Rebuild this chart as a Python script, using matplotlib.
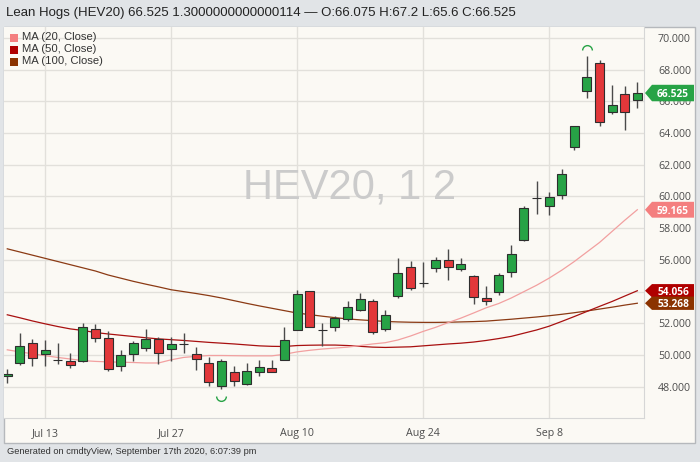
import matplotlib.pyplot as plt
from matplotlib.path import Path
from matplotlib.patches import Rectangle, Polygon
from matplotlib.transforms import blended_transform_factory

# Sessões (dias úteis)
dates = ["2020-07-08", "2020-07-09", "2020-07-10",
         "2020-07-13", "2020-07-14", "2020-07-15", "2020-07-16", "2020-07-17",
         "2020-07-20", "2020-07-21", "2020-07-22", "2020-07-23", "2020-07-24",
         "2020-07-27", "2020-07-28", "2020-07-29", "2020-07-30", "2020-07-31",
         "2020-08-03", "2020-08-04", "2020-08-05", "2020-08-06", "2020-08-07",
         "2020-08-10", "2020-08-11", "2020-08-12", "2020-08-13", "2020-08-14",
         "2020-08-17", "2020-08-18", "2020-08-19", "2020-08-20", "2020-08-21",
         "2020-08-24", "2020-08-25", "2020-08-26", "2020-08-27", "2020-08-28",
         "2020-08-31", "2020-09-01", "2020-09-02", "2020-09-03", "2020-09-04",
         "2020-09-08", "2020-09-09", "2020-09-10", "2020-09-11",
         "2020-09-14", "2020-09-15", "2020-09-16", "2020-09-17"]

opens = [48.65, 49.50, 50.76, 50.08, 49.70, 49.64, 49.64, 51.64, 51.07, 49.28,
         50.06, 50.44, 51.01, 50.38, 50.69, 50.08, 49.50, 48.02, 48.93, 48.19,
         48.90, 49.18, 49.70, 51.55, 54.01, 51.60, 51.74, 52.27, 52.81, 53.43,
         51.64, 53.70, 55.53, 54.54, 55.49, 55.97, 55.43, 55.00, 53.60, 53.97,
         55.24, 57.27, 59.90, 59.37, 60.07, 63.12, 66.63, 68.42, 65.31, 66.47,
         66.075]
highs = [49.15, 51.39, 51.01, 50.97, 50.76, 50.13, 52.02, 51.97, 51.49, 50.33,
         50.86, 51.64, 51.14, 51.17, 51.39, 50.50, 49.87, 49.75, 49.32, 49.53,
         49.70, 49.70, 51.80, 54.12, 54.05, 52.05, 52.48, 53.44, 53.91, 53.53,
         52.81, 56.12, 55.95, 55.90, 56.18, 56.69, 56.12, 55.05, 54.33, 55.17,
         56.91, 59.42, 60.95, 60.26, 61.73, 64.47, 68.84, 68.59, 67.05, 66.95,
         67.2]
lows = [48.25, 49.39, 49.32, 49.28, 49.45, 49.18, 49.58, 50.82, 49.01, 49.01,
        49.64, 50.27, 49.45, 49.64, 50.13, 49.07, 48.02, 47.85, 48.02, 48.13,
        48.69, 48.90, 49.70, 51.55, 51.75, 50.54, 51.49, 52.16, 52.75, 51.33,
        51.49, 53.60, 54.08, 54.29, 55.21, 54.71, 55.28, 53.24, 53.17, 53.80,
        54.92, 57.21, 58.91, 58.81, 59.84, 62.95, 66.21, 64.47, 65.22, 64.21,
        65.6]
closes = [48.78, 50.54, 49.81, 50.33, 49.70, 49.39, 51.80, 51.07, 49.14, 50.02,
          50.76, 51.01, 50.13, 50.71, 50.69, 49.77, 48.30, 49.60, 48.38, 48.99,
          49.26, 48.90, 50.97, 53.85, 51.80, 51.60, 52.33, 53.00, 53.53, 51.43,
          52.50, 55.17, 54.23, 54.54, 55.97, 55.55, 55.74, 53.66, 53.38, 55.02,
          56.39, 59.27, 59.90, 59.94, 61.42, 64.42, 67.54, 64.70, 65.75, 65.31,
          66.525]

# Médias móveis
ma20 = [50.33, 50.20, 50.08, 49.96, 49.85, 49.75, 49.65, 49.60, 49.57, 49.55,
        49.53, 49.50, 49.50, 49.70, 49.85, 49.92, 49.97, 49.97, 49.96, 49.95,
        49.95, 49.95, 50.05, 50.20, 50.30, 50.38, 50.44, 50.50, 50.60, 50.70,
        50.78, 50.95, 51.20, 51.49, 51.75, 52.05, 52.33, 52.65, 52.98, 53.25,
        53.60, 54.00, 54.40, 54.85, 55.35, 55.90, 56.50, 57.10, 57.80, 58.50,
        59.165]
ma50 = [52.54, 52.35, 52.15, 51.97, 51.80, 51.65, 51.55, 51.42, 51.33, 51.25,
        51.17, 51.09, 51.02, 50.97, 50.92, 50.86, 50.80, 50.75, 50.70, 50.64,
        50.58, 50.55, 50.54, 50.60, 50.62, 50.63, 50.63, 50.60, 50.55, 50.50,
        50.48, 50.50, 50.52, 50.58, 50.64, 50.70, 50.75, 50.82, 50.92, 51.04,
        51.18, 51.38, 51.58, 51.82, 52.12, 52.43, 52.75, 53.07, 53.38, 53.72,
        54.056]
ma100 = [56.70, 56.50, 56.30, 56.10, 55.90, 55.70, 55.50, 55.30, 55.05, 54.85,
         54.65, 54.47, 54.30, 54.12, 54.00, 53.88, 53.75, 53.60, 53.43, 53.26,
         53.10, 52.95, 52.80, 52.65, 52.55, 52.45, 52.36, 52.28, 52.22, 52.17,
         52.12, 52.09, 52.07, 52.06, 52.06, 52.07, 52.09, 52.11, 52.14, 52.20,
         52.26, 52.33, 52.40, 52.48, 52.57, 52.67, 52.78, 52.90, 53.02, 53.15,
         53.268]

tick_dates = ["2020-07-13", "2020-07-27", "2020-08-10", "2020-08-24", "2020-09-08"]
tick_labels = ["Jul 13", "Jul 27", "Aug 10", "Aug 24", "Sep 8"]
price_ticks = [48, 50, 52, 54, 56, 58, 60, 62, 64, 66, 68, 70]

title = "Lean Hogs (HEV20) 66.525 1.3000000000000114 \u2014 O:66.075 H:67.2 L:65.6 C:66.525"
footer = "Generated on cmdtyView, September 17th 2020, 6:07:39 pm"

W, H = 700, 462
UP, DOWN, DOJI = "#27a346", "#e2373a", "#333333"
MA_COLORS = ["#f47f7f", "#b00000", "#8b3300"]
MA_LINES = ["#f2a0a0", "#a81010", "#8b3a14"]
MA_NAMES = ["MA (20, Close)", "MA (50, Close)", "MA (100, Close)"]


def fx(px):
    return px / W


def fy(py):
    return 1 - py / H


def main():
    fig = plt.figure(figsize=(7, 4.62), dpi=100, facecolor="#e1e4e7")

    # moldura do painel (atrás dos eixos)
    fig.patches.append(Rectangle((fx(4), fy(443)), fx(695) - fx(4), fy(27) - fy(443),
                                 transform=fig.transFigure, facecolor="#fbf9f4",
                                 edgecolor="#b5b8bc", lw=1, zorder=-5))

    ax = fig.add_axes([fx(4), fy(418), (644 - 4) / W, (418 - 27) / H])
    ax.set_facecolor("#fbf9f4")
    for s in ["left", "top"]:
        ax.spines[s].set_visible(False)
    for s in ["right", "bottom"]:
        ax.spines[s].set_color("#d6d6d6")

    x = list(range(len(dates)))

    # médias
    for vals, col in zip([ma100, ma50, ma20], MA_LINES[::-1]):
        ax.plot(x, vals, color=col, lw=0.9, zorder=2)

    # candles
    body_col = []
    for o, c in zip(opens, closes):
        if c > o:
            body_col.append(UP)
        elif c < o:
            body_col.append(DOWN)
        else:
            body_col.append(DOJI)
    ax.vlines(x, lows, highs, color="#4a4a4a", lw=1, zorder=3)
    bottoms = [min(o, c) for o, c in zip(opens, closes)]
    heights = [abs(c - o) for o, c in zip(opens, closes)]
    ax.bar(x, heights, bottom=bottoms, width=0.72, color=body_col,
           edgecolor="#2e2e2e", lw=0.8, zorder=4)

    # marcadores de máxima / mínima
    i_hi = highs.index(max(highs))
    i_lo = lows.index(min(lows))
    ax.plot([i_hi], [highs[i_hi] + 0.42], marker=Path.arc(0, 180), ms=7,
            mfc="none", mec=UP, mew=1, ls="none", zorder=5)
    ax.plot([i_lo], [lows[i_lo] - 0.42], marker=Path.arc(180, 360), ms=7,
            mfc="none", mec=UP, mew=1, ls="none", zorder=5)

    # eixos
    ax.set_xlim(-0.26, 50.53)
    ax.set_ylim(46.03, 70.69)
    ax.set_xticks([dates.index(d) for d in tick_dates])
    ax.set_xticklabels(tick_labels)
    ax.set_yticks(price_ticks)
    ax.set_yticklabels([f"{v:.3f}" for v in price_ticks], family="Open Sans")
    for lab in ax.get_xticklabels():
        lab.set_family("Open Sans")
    ax.yaxis.tick_right()
    ax.tick_params(axis="y", length=0, pad=10, labelsize=7.7, labelcolor="#4d4d4d")
    ax.tick_params(axis="x", length=0, pad=7, labelsize=7.7, labelcolor="#4d4d4d")
    ax.grid(color="#e2e0db", lw=1, zorder=0)
    ax.set_axisbelow(True)

    # marca d'água
    ax.text(0.54, 0.59, "HEV20, 1 2", transform=ax.transAxes, ha="center",
            va="center", fontsize=30, color="#cbcbcb", family="Liberation Sans",
            zorder=1)

    # etiquetas de preço no eixo
    tr = blended_transform_factory(fig.transFigure, ax.transData)
    tags = [(66.525, UP, 0.52), (ma20[-1], MA_COLORS[0], 0.5),
            (ma50[-1], MA_COLORS[1], 0.42), (ma100[-1], MA_COLORS[2], 0.42)]
    for v, col, h in tags:
        pts = [(fx(645), v), (fx(652), v + h), (fx(694), v + h),
               (fx(694), v - h), (fx(652), v - h)]
        ax.add_patch(Polygon(pts, closed=True, transform=tr, facecolor=col,
                             edgecolor="none", clip_on=False, zorder=6))
        ax.text(fx(673), v, f"{v:.3f}", transform=tr, ha="center", va="center_baseline",
                color="white", fontsize=7.3, fontweight="bold",
                family="Open Sans", zorder=7, clip_on=False)

    # legenda
    for k, (name, col) in enumerate(zip(MA_NAMES, MA_COLORS)):
        yc = 37.5 + 12 * k
        fig.patches.append(Rectangle((fx(10), fy(yc + 4)), 8 / W, 8 / H,
                                     transform=fig.transFigure, facecolor=col,
                                     edgecolor="none", zorder=5))
        fig.text(fx(22), fy(yc), name, ha="left", va="center", fontsize=8.1,
                 family="Liberation Sans", color="#333333", zorder=6)

    # título e rodapé
    fig.text(fx(6), fy(13), title, ha="left", va="center", fontsize=9.5,
             family="Liberation Sans", color="#222222")
    fig.text(fx(7), fy(452), footer, ha="left", va="center", fontsize=6.7,
             family="Liberation Sans", color="#333333")

    fig.savefig("out.png", dpi=100, facecolor=fig.get_facecolor())


if __name__ == "__main__":
    main()
